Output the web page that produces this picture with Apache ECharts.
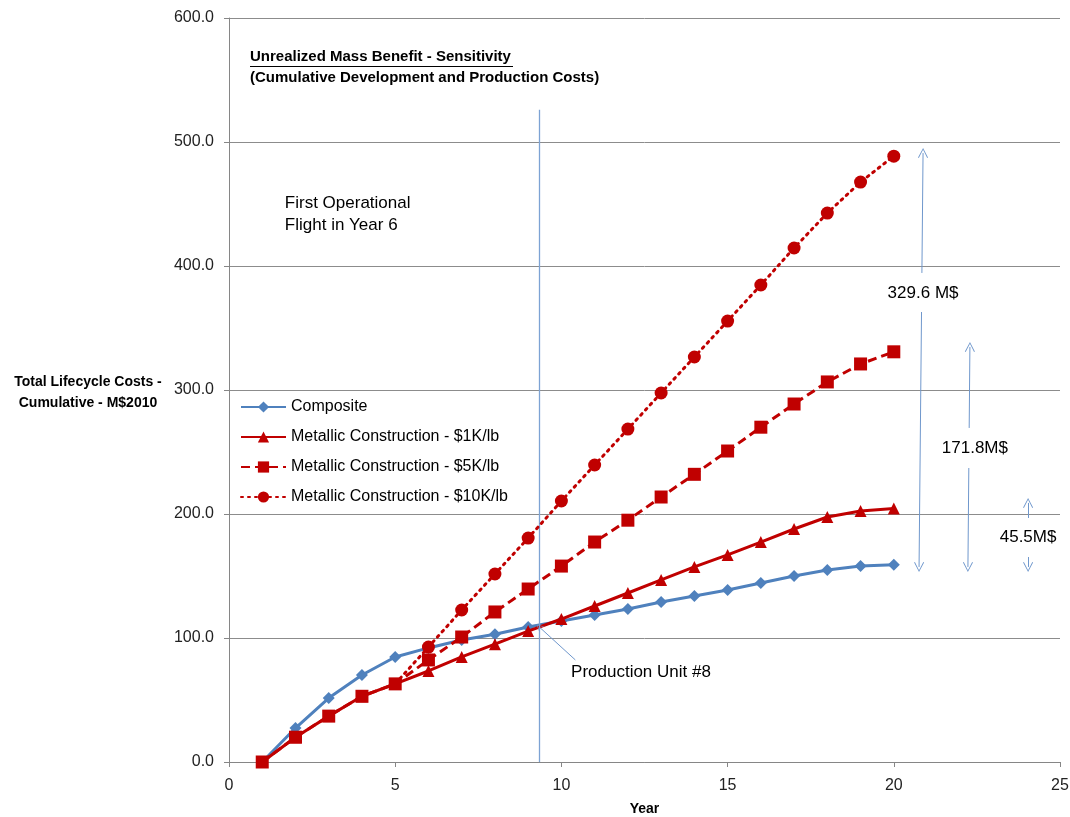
<!DOCTYPE html>
<html><head><meta charset="utf-8">
<script src="https://cdn.jsdelivr.net/npm/echarts@6/dist/echarts.min.js"></script>
<style>html,body{margin:0;padding:0;background:#fff}#c{width:1070px;height:817px}</style>
</head><body><div id="c"></div>
<script>
const years = [1,2,3,4,5,6,7,8,9,10,11,12,13,14,15,16,17,18,19,20];
const composite = [0,27.4,51.6,70.2,84.7,92.0,98.4,103.0,108.9,113.7,118.5,123.4,129.0,133.9,138.7,144.4,150.0,154.8,158.0,159.0];
const metal1K = [0,20,37,53,63,73.4,84.7,95.0,105.6,115.3,125.8,136.3,146.8,157.3,167.0,177.4,187.9,197.6,202.4,204.5];
const metal5K = [0,20,37,53,63,82.3,100.8,121.0,139.5,158.0,177.4,195.0,213.7,232.0,250.8,270.0,288.7,306.5,321.0,330.8];
const metal10K = [null,null,null,null,63,92.7,122.6,151.6,180.6,210.5,239.5,268.5,297.6,326.6,355.6,384.7,414.5,442.7,467.7,488.6];
const seriesNames = ['Composite','Metallic Construction - $1K/lb','Metallic Construction - $5K/lb','Metallic Construction - $10K/lb'];
// annotation arrows: [x top, x bottom, y top, gap top, gap bottom, y bottom]
const arrows = [
  [20.88, 20.76, 491.1, 394.4, 362.9, 157.3],
  [22.29, 22.23, 334.7, 269.4, 237.1, 157.3],
  [24.04, 24.04, 208.9, 196.8, 165.3, 157.3]
];
// annotation texts: [x, y, text, anchor]
const notes = [
  [20.88, 378.2, '329.6 M$', 'c'],
  [22.44, 253.2, '171.8M$', 'c'],
  [24.04, 181.5, '45.5M$', 'c'],
  [10.29, 72.6, 'Production Unit #8', 'l'],
  [1.68, 442, 'First Operational\nFlight in Year 6', 'l']
];
const prodLine = [9.33, 0, 526];
const prodLeader = [[9.33, 109], [10.42, 82.3]];

const FONT = 'Liberation Sans';
const BLUE = '#4f81bd', RED = '#c00000', ANN = '#6f97cc';
const chev = 'path://M0,10 L5,0 L10,10 L9.2,10.5 L5,1.8 L0.8,10.5 Z';

function pairs(arr){ return arr.map((v,i)=> v==null?null:[years[i], v]); }

const markData = [];
arrows.forEach(a=>{
  const t = (y)=> a[0] + (a[1]-a[0])*(a[2]-y)/(a[2]-a[5]);
  markData.push([{coord:[t(a[3]),a[3]],symbol:'none'},{coord:[a[0],a[2]],symbol:chev}]);
  markData.push([{coord:[t(a[4]),a[4]],symbol:'none'},{coord:[a[1],a[5]],symbol:chev}]);
});
markData.push([{coord:[prodLine[0],prodLine[1]],symbol:'none', lineStyle:{color:'#7da3d4', width:1.3}},{coord:[prodLine[0],prodLine[2]],symbol:'none'}]);
markData.push([{coord:prodLeader[1],symbol:'none'},{coord:prodLeader[0],symbol:chev, symbolSize:[7,7]}]);

const d10 = pairs(metal10K).filter(p=>p);
const d10items = d10.map((p,i)=> i===0 ? {value:p, symbol:'none'} : {value:p});

const chart = echarts.init(document.getElementById('c'), null, {renderer:'canvas'});
chart.setOption({
  animation:false,
  textStyle:{fontFamily:FONT},
  grid:{left:229, right:10, top:18, bottom:55, containLabel:false, outerBoundsMode:'none'},
  xAxis:{type:'value', min:0, max:25, interval:5,
    name:'Year', nameLocation:'middle', nameGap:40,
    nameTextStyle:{fontFamily:FONT, fontWeight:'bold', fontSize:14, color:'#000'},
    axisLine:{show:true, lineStyle:{color:'#868686'}},
    axisTick:{show:true, length:5, lineStyle:{color:'#868686'}},
    axisLabel:{fontSize:16, color:'#222', margin:16},
    splitLine:{show:false}},
  yAxis:{type:'value', min:0, max:600, interval:100,
    axisLine:{show:true, lineStyle:{color:'#868686'}},
    axisTick:{show:true, length:5, lineStyle:{color:'#868686'}},
    axisLabel:{fontSize:16, color:'#222', margin:15, formatter:v=>v.toFixed(1)},
    splitLine:{show:true, lineStyle:{color:'#8c8c8c', width:1}}},
  legend:{orient:'vertical', left:235, top:394, itemGap:14, itemWidth:45, itemHeight:14,
    textStyle:{fontFamily:FONT, fontSize:16, color:'#000'},
    data:seriesNames},
  graphic:[
    {type:'text', left:250, top:49, style:{text:'Unrealized Mass Benefit - Sensitivity', font:'bold 15px '+FONT, fill:'#000'}},
    {type:'line', shape:{x1:250, y1:66.5, x2:513, y2:66.5}, style:{stroke:'#000', lineWidth:1}},
    {type:'text', left:250, top:70, style:{text:'(Cumulative Development and Production Costs)', font:'bold 15px '+FONT, fill:'#000'}},
    {type:'text', x:88, y:372, style:{text:'Total Lifecycle Costs -\nCumulative - M$2010', font:'bold 14px '+FONT, fill:'#000', align:'center', lineHeight:21}}
  ],
  series:[
    {name:seriesNames[0], type:'line', data:pairs(composite), symbol:'diamond', symbolSize:12,
      lineStyle:{color:BLUE, width:3}, itemStyle:{color:BLUE}, z:2},
    {name:seriesNames[1], type:'line', data:pairs(metal1K), symbol:'triangle', symbolSize:12,
      lineStyle:{color:RED, width:3}, itemStyle:{color:RED}, z:3},
    {name:seriesNames[2], type:'line', data:pairs(metal5K), symbol:'rect', symbolSize:13,
      lineStyle:{color:RED, width:3, type:[9,5]}, itemStyle:{color:RED}, z:4},
    {name:seriesNames[3], type:'line', data:d10items, symbol:'circle', symbolSize:13,
      lineStyle:{color:RED, width:3, type:[2,5], cap:'round'}, itemStyle:{color:RED}, z:5},
    {name:'notes', type:'scatter', symbolSize:0, silent:true, z:6,
      itemStyle:{opacity:1},
      data:notes.map(n=>({value:[n[0],n[1]],
        label:{show:true, formatter:n[2], position:n[3]==='c'?'inside':'right', distance:0,
          fontFamily:FONT, fontSize:17, color:'#000', opacity:1, textBorderWidth:0, lineHeight:22, align:n[3]==='c'?'center':'left'}})),
      markLine:{silent:true, animation:false, symbolSize:[10,10], label:{show:false},
        lineStyle:{color:ANN, width:1, type:'solid'}, emphasis:{disabled:true},
        data:markData}}
  ]
});
</script></body></html>
